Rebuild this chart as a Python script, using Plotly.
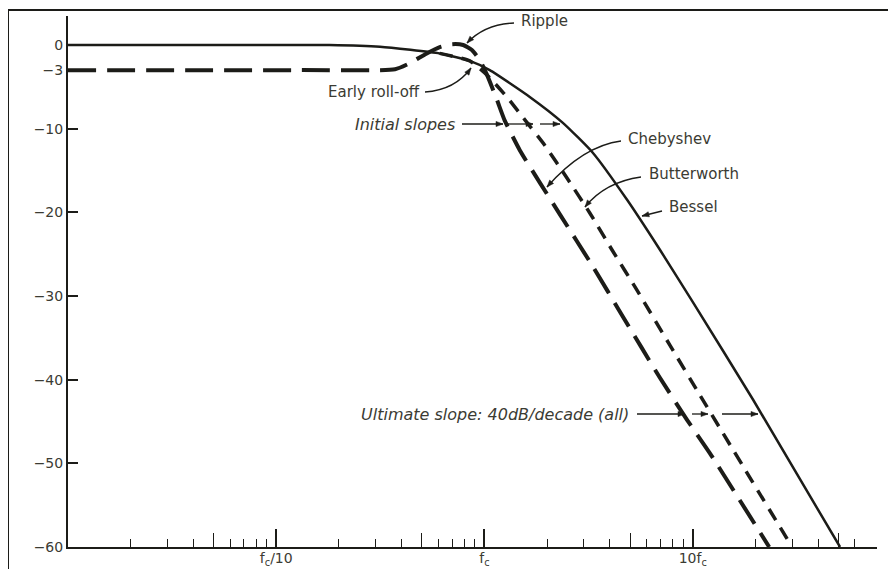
import plotly.graph_objects as go

# frequencies are in units of fc, levels in dB
freq_bessel = [0.01, 0.075, 0.18, 0.315, 0.61, 0.85, 1.06, 1.65, 2.38, 3.32, 4.84, 6.97, 10.0, 19.5, 51.0]
db_bessel = [0, 0, 0, -0.2, -1.0, -1.9, -3.0, -6.2, -9.3, -12.9, -18.5, -24.5, -30.7, -42.4, -60]

freq_butter = [0.61, 0.85, 1.03, 1.28, 1.57, 1.95, 2.49, 3.21, 4.10, 5.40, 7.78, 10.8, 30.0]
db_butter = [-1.0, -1.9, -3.6, -6.2, -9.0, -12.0, -15.9, -20.1, -24.5, -29.3, -35.9, -41.8, -60]

freq_cheby = [0.01, 0.13, 0.372, 0.44, 0.52, 0.61, 0.70, 0.79, 0.87, 0.95, 1.03, 1.15, 1.25,
              1.48, 1.85, 2.31, 3.32, 4.63, 6.97, 9.39, 12.1, 23.3]
db_cheby = [-3, -3, -2.9, -2.15, -1.1, -0.25, 0.1, 0, -0.6, -1.8, -3.6, -6.6, -9.0,
            -12.6, -16.5, -20.3, -26.5, -32.5, -39.8, -44.8, -48.8, -60]

x_major_ticks = [0.1, 1, 10]
x_major_labels = ["f<sub>c</sub>/10", "f<sub>c</sub>", "10f<sub>c</sub>"]
x_mid_ticks = [0.05, 0.5, 5, 50]
x_minor_ticks = [0.02, 0.03, 0.04, 0.06, 0.07, 0.08, 0.09,
                 0.2, 0.3, 0.4, 0.6, 0.7, 0.8, 0.9,
                 2, 3, 4, 6, 7, 8, 9,
                 20, 30, 40, 60]
y_ticks = [0, -3, -10, -20, -30, -40, -50, -60]
y_labels = ["0", "\u22123", "\u221210", "\u221220", "\u221230", "\u221240", "\u221250", "\u221260"]

INK = "#1c1c18"
TXT = "#3b3b33"
FONT = "DejaVu Sans"
X_RANGE = [-2, 1.885]
Y_RANGE = [-60, 3.47]

fig = go.Figure()

fig.add_trace(go.Scatter(x=freq_cheby, y=db_cheby, mode="lines", name="Chebyshev",
                         line=dict(color=INK, width=4, dash="28px,11px", shape="spline", smoothing=0.5)))
fig.add_trace(go.Scatter(x=freq_butter, y=db_butter, mode="lines", name="Butterworth",
                         line=dict(color=INK, width=3.5, dash="13px,9px", shape="spline", smoothing=0.5)))
fig.add_trace(go.Scatter(x=freq_bessel, y=db_bessel, mode="lines", name="Bessel",
                         line=dict(color=INK, width=2.5, shape="spline", smoothing=0.5)))
# empty trace so the second x axis (the taller "5" ticks) gets drawn
fig.add_trace(go.Scatter(x=[], y=[], xaxis="x2", showlegend=False))


def px(x, y):
    """position on the page (pixels) -> paper coords of the plot area"""
    return (x - 68) / 809, (547 - y) / 531


def label(text, x, y, anchor="left", size=15):
    xp, yp = px(x, y)
    fig.add_annotation(x=xp, y=yp, xref="paper", yref="paper", text=text, showarrow=False,
                       xanchor=anchor, yanchor="middle", font=dict(family=FONT, size=size, color=TXT))


def head(x_from, y_from, x1, y1):
    # small filled triangle at (x1, y1) pointing away from (x_from, y_from)
    dx, dy = x1 - x_from, y1 - y_from
    n = (dx * dx + dy * dy) ** 0.5
    ux, uy = dx / n, dy / n
    bx, by = x1 - ux * 7, y1 - uy * 7
    pts = [px(x1, y1), px(bx - uy * 2.6, by + ux * 2.6), px(bx + uy * 2.6, by - ux * 2.6)]
    path = "M " + " L ".join(f"{p[0]},{p[1]}" for p in pts) + " Z"
    fig.add_shape(type="path", xref="paper", yref="paper", path=path,
                  fillcolor=INK, line=dict(color=INK, width=0.5))


def arrow(x_tail, y_tail, x_tip, y_tip):
    a, b = px(x_tail, y_tail), px(x_tip, y_tip)
    fig.add_shape(type="line", xref="paper", yref="paper", x0=a[0], y0=a[1], x1=b[0], y1=b[1],
                  line=dict(color=INK, width=1.3))
    head(x_tail, y_tail, x_tip, y_tip)


def curved_arrow(x0, y0, cx, cy, x1, y1):
    a, b, c = px(x0, y0), px(cx, cy), px(x1, y1)
    fig.add_shape(type="path", xref="paper", yref="paper",
                  path=f"M {a[0]},{a[1]} Q {b[0]},{b[1]} {c[0]},{c[1]}",
                  line=dict(color=INK, width=1.3))
    head(cx, cy, x1, y1)


label("Ripple", 544, 21, "center")
curved_arrow(514, 23, 485, 24, 467, 43)

label("Early roll-off", 422, 92, "right")
curved_arrow(425, 92, 455, 90, 471, 68)

label("<i>Initial slopes</i>", 457, 124, "right", 16)
arrow(462, 124, 503, 124)
arrow(508, 124, 533, 124)
arrow(540, 124, 560, 124)

label("Chebyshev", 626, 139)
curved_arrow(621, 141, 583, 146, 547, 187)

label("Butterworth", 647, 174)
curved_arrow(641, 177, 605, 182, 585, 207)

label("Bessel", 667, 207)
arrow(662, 211, 642, 216)

label("<i>Ultimate slope: 40dB/decade (all)</i>", 631, 414, "right", 16)
arrow(637, 414, 685, 414)
arrow(692, 414, 708, 414)
arrow(722, 414, 758, 414)

# page frame (left and top edge of the scanned figure)
l0, t0 = px(8, 10)
r0, b0 = px(896, 569)
fig.add_shape(type="line", xref="paper", yref="paper", x0=l0, y0=b0, x1=l0, y1=t0,
              line=dict(color=INK, width=2))
fig.add_shape(type="line", xref="paper", yref="paper", x0=l0, y0=t0, x1=r0, y1=t0,
              line=dict(color=INK, width=2))

# the html body adds an 8px margin, so the figure is 8px smaller each way
fig.update_layout(
    width=888, height=561,
    margin=dict(l=60, r=19, t=8, b=22),
    paper_bgcolor="white", plot_bgcolor="white",
    showlegend=False,
    font=dict(family=FONT, size=14, color=TXT),
    xaxis=dict(
        type="log", range=X_RANGE, showgrid=False, zeroline=False,
        showline=True, linecolor=INK, linewidth=2,
        tickmode="array", tickvals=x_major_ticks, ticktext=x_major_labels,
        ticks="inside", ticklen=18, tickwidth=1.5, tickcolor=INK,
        tickfont=dict(family=FONT, size=14, color=TXT), ticklabelstandoff=-3,
        minor=dict(tickmode="array", tickvals=x_minor_ticks, ticks="inside",
                   ticklen=8, tickwidth=1.3, tickcolor=INK, showgrid=False),
        automargin=False,
    ),
    xaxis2=dict(
        type="log", range=X_RANGE, overlaying="x", anchor="y", side="bottom",
        showgrid=False, zeroline=False, showline=False, showticklabels=False,
        tickmode="array", tickvals=x_mid_ticks,
        ticks="inside", ticklen=14, tickwidth=1.3, tickcolor=INK,
    ),
    yaxis=dict(
        range=Y_RANGE, showgrid=False, zeroline=False,
        showline=True, linecolor=INK, linewidth=2,
        tickmode="array", tickvals=y_ticks, ticktext=y_labels,
        ticks="inside", ticklen=10, tickwidth=1.5, tickcolor=INK,
        tickfont=dict(family=FONT, size=14, color=TXT),
        automargin=False,
    ),
)

fig.write_html("out.html")
